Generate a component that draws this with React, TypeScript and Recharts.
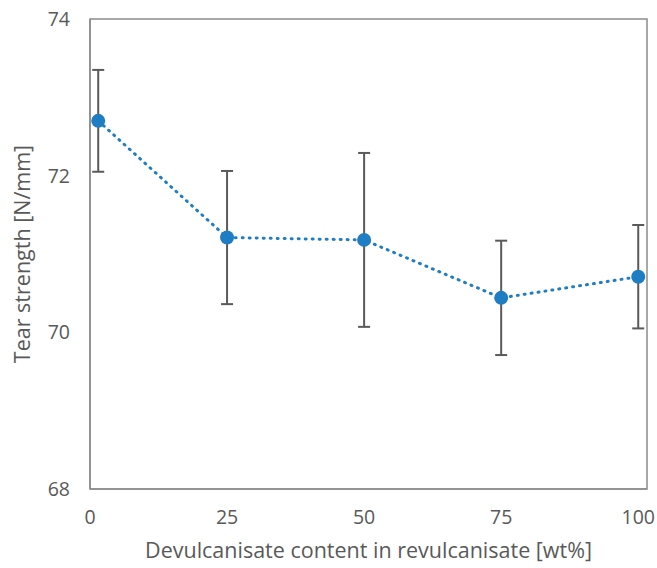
import { ErrorBar, Label, Line, LineChart, ReferenceArea, XAxis, YAxis } from "recharts";

const contents = [1.5, 25, 50, 75, 100];
const strengths = [72.7, 71.21, 71.18, 70.44, 70.71];
const deviations = [0.65, 0.85, 1.11, 0.73, 0.66];
const xTicks = [0, 25, 50, 75, 100];
const yTicks = [68, 70, 72, 74];

const data = contents.map((x, i) => ({ x, y: strengths[i], err: deviations[i] }));

const font = "'Open Sans', sans-serif";
const textColor = "#595959";
const frame = "#8c8c8c";

export default function App() {
  return (
    <div style={{ position: "absolute", left: 0, top: 0, background: "#fff", fontFamily: font }}>
      <LineChart width={657} height={568} data={data} margin={{ top: 19, right: 10, bottom: 0, left: 0 }}>
        <ReferenceArea x1={0} x2={101.6} y1={68} y2={74} fill="none" stroke={frame} strokeWidth={1.5} />
        <XAxis
          type="number"
          dataKey="x"
          domain={[0, 101.6]}
          ticks={xTicks}
          height={79}
          tickLine={false}
          axisLine={{ stroke: frame, strokeWidth: 1.5 }}
          tick={{ fill: textColor, fontSize: 19.5, fontFamily: font }}
          tickMargin={15}
        >
          <Label
            value="Devulcanisate content in revulcanisate [wt%]"
            position="insideBottom"
            offset={10}
            fill={textColor}
            fontSize={21.5}
            fontFamily={font}
          />
        </XAxis>
        <YAxis
          type="number"
          domain={[68, 74]}
          ticks={yTicks}
          width={90}
          tickLine={false}
          axisLine={{ stroke: frame, strokeWidth: 1.5 }}
          tick={{ fill: textColor, fontSize: 19.5, fontFamily: font }}
          tickMargin={14}
        >
          <Label
            value="Tear strength [N/mm]"
            angle={-90}
            position="insideLeft"
            offset={22}
            style={{ textAnchor: "middle" }}
            fill={textColor}
            fontSize={21.5}
            fontFamily={font}
          />
        </YAxis>
        <Line
          dataKey="y"
          stroke="#1f7dc4"
          strokeWidth={3}
          strokeDasharray="1 6"
          strokeLinecap="round"
          dot={{ r: 7, fill: "#1f7dc4", stroke: "none" }}
          isAnimationActive={false}
        >
          <ErrorBar dataKey="err" width={6} stroke="#5a5a5a" strokeWidth={2} direction="y" />
        </Line>
      </LineChart>
    </div>
  );
}
